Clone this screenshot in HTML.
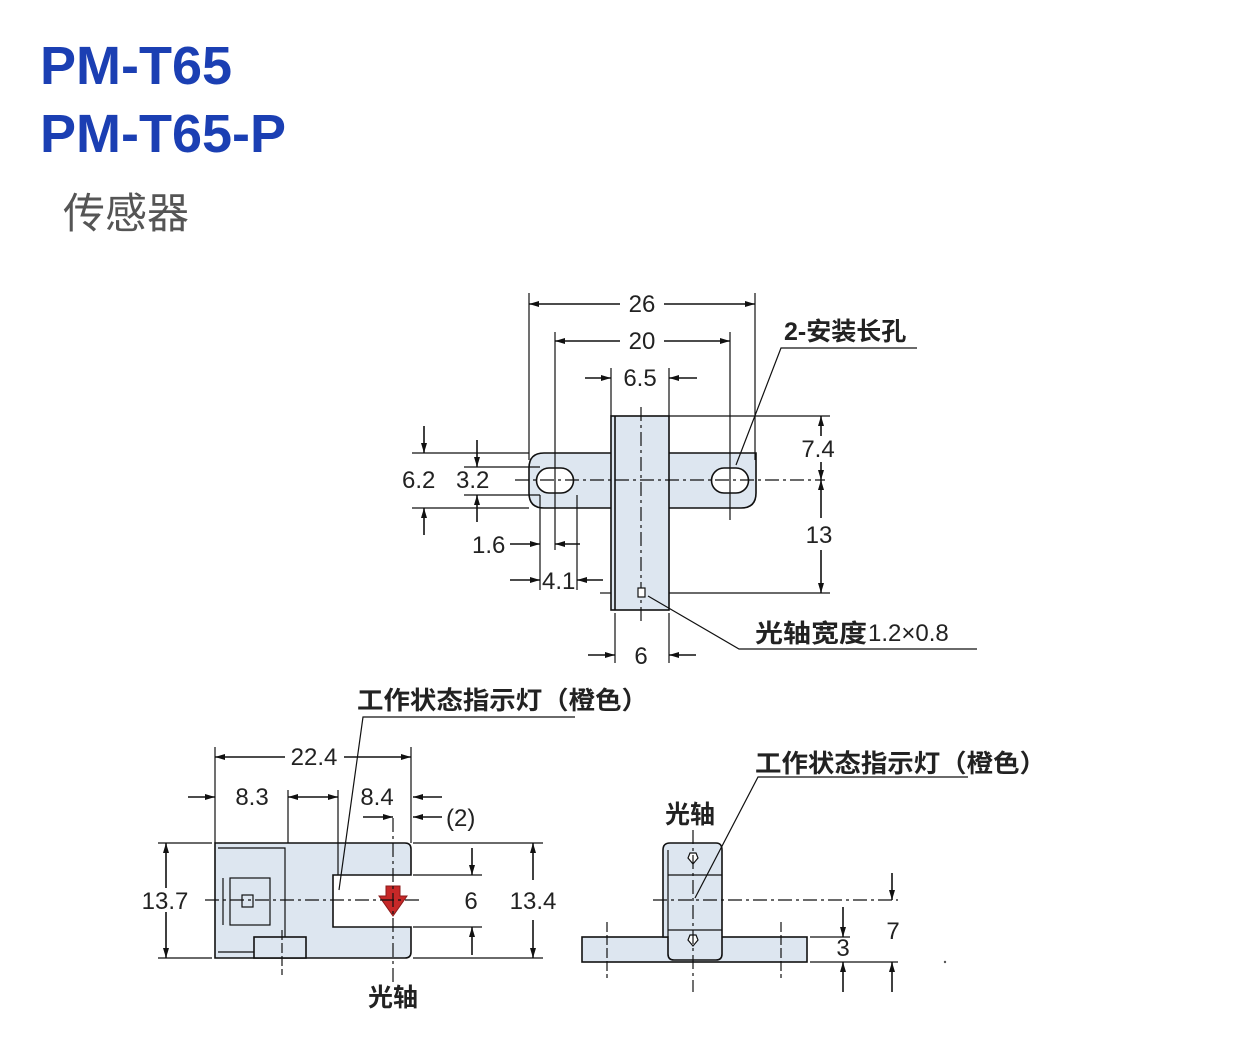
<!DOCTYPE html>
<html><head><meta charset="utf-8"><style>
html,body{margin:0;padding:0;background:#fff;width:1242px;height:1059px;overflow:hidden}
svg{display:block}
.t{font-family:"Liberation Sans","Noto Sans CJK SC",sans-serif;fill:#222}
.c{font-family:"Liberation Sans","Noto Sans CJK SC",sans-serif;fill:#222;font-weight:bold}
</style></head><body>
<svg width="1242" height="1059" viewBox="0 0 1242 1059" xmlns="http://www.w3.org/2000/svg">
<defs>
<marker id="a" markerWidth="10" markerHeight="6" refX="10" refY="3" orient="auto" markerUnits="userSpaceOnUse"><path d="M0,0 L10,3 L0,6 Z" fill="#111"/></marker>
</defs>
<text x="40" y="84" font-family="Liberation Sans,sans-serif" font-weight="bold" font-size="54" fill="#1b3fb3">PM-T65</text>
<text x="40" y="152" font-family="Liberation Sans,sans-serif" font-weight="bold" font-size="54" fill="#1b3fb3">PM-T65-P</text>
<text x="63" y="228" class="t" font-size="42" style="fill:#555">传感器</text>

<g stroke="#111" stroke-width="1.6" fill="none">
<!-- TOP VIEW -->
<path d="M544,453 H756 V493 Q756,508 741,508 H544 Q529,508 529,493 V468 Q529,453 544,453 Z" fill="#dde6f0"/>
<rect x="611" y="416" width="58" height="194" fill="#dde6f0"/>
<line x1="615" y1="416" x2="615" y2="610"/>
<path d="M555,468 H561 A12.5,12.5 0 0 1 561,493 H549 A12.5,12.5 0 0 1 549,468 Z" fill="#fff"/>
<path d="M730,468 H736 A12.5,12.5 0 0 1 736,493 H724 A12.5,12.5 0 0 1 724,468 Z" fill="#fff"/>
<g stroke-width="1.2">
<line x1="515" y1="480" x2="825" y2="480" stroke-dasharray="14,4,3,4"/>
<line x1="641" y1="407" x2="641" y2="623" stroke-dasharray="14,4,3,4"/>
<line x1="529" y1="293" x2="529" y2="460"/>
<line x1="755" y1="293" x2="755" y2="460"/>
<line x1="555" y1="332" x2="555" y2="520"/>
<line x1="730" y1="332" x2="730" y2="520"/>
<line x1="611" y1="368" x2="611" y2="416"/>
<line x1="669" y1="368" x2="669" y2="416"/>
<line x1="669" y1="416" x2="830" y2="416"/>
<line x1="669" y1="593" x2="830" y2="593"/>
<line x1="600" y1="593" x2="611" y2="593"/>
<line x1="615" y1="613" x2="615" y2="663"/>
<line x1="669" y1="613" x2="669" y2="663"/>
<line x1="412" y1="453" x2="529" y2="453"/>
<line x1="412" y1="508" x2="529" y2="508"/>
<line x1="464" y1="467" x2="540" y2="467"/>
<line x1="464" y1="495" x2="540" y2="495"/>
<line x1="540" y1="495" x2="540" y2="590"/>
<line x1="577" y1="495" x2="577" y2="590"/>
<line x1="555" y1="520" x2="555" y2="550"/>
</g>
<line x1="620" y1="304" x2="529" y2="304" marker-end="url(#a)"/>
<line x1="664" y1="304" x2="755" y2="304" marker-end="url(#a)"/>
<line x1="620" y1="341" x2="555" y2="341" marker-end="url(#a)"/>
<line x1="664" y1="341" x2="730" y2="341" marker-end="url(#a)"/>
<line x1="585" y1="378" x2="611" y2="378" marker-end="url(#a)"/>
<line x1="697" y1="378" x2="669" y2="378" marker-end="url(#a)"/>
<line x1="821" y1="436" x2="821" y2="416" marker-end="url(#a)"/>
<line x1="821" y1="462" x2="821" y2="480" marker-end="url(#a)"/>
<line x1="821" y1="518" x2="821" y2="480" marker-end="url(#a)"/>
<line x1="821" y1="550" x2="821" y2="593" marker-end="url(#a)"/>
<line x1="424" y1="426" x2="424" y2="453" marker-end="url(#a)"/>
<line x1="424" y1="535" x2="424" y2="508" marker-end="url(#a)"/>
<line x1="477" y1="440" x2="477" y2="467" marker-end="url(#a)"/>
<line x1="477" y1="522" x2="477" y2="495" marker-end="url(#a)"/>
<line x1="510" y1="544" x2="540" y2="544" marker-end="url(#a)"/>
<line x1="580" y1="544" x2="555" y2="544" marker-end="url(#a)"/>
<line x1="510" y1="580" x2="540" y2="580" marker-end="url(#a)"/>
<line x1="603" y1="580" x2="577" y2="580" marker-end="url(#a)"/>
<line x1="588" y1="655" x2="615" y2="655" marker-end="url(#a)"/>
<line x1="696" y1="655" x2="669" y2="655" marker-end="url(#a)"/>
<rect x="638" y="588" width="7" height="9" stroke-width="1.2" fill="#fff"/>
<polyline points="977,649 739,649 648,596" stroke-width="1.2"/>
<polyline points="917,348 781,348 736,465" stroke-width="1.2"/>

<!-- FRONT VIEW -->
<path d="M215,843 H405 Q411,843 411,849 V875 H333 V927 H411 V952 Q411,958 405,958 H215 Z" fill="#dde6f0"/>
<path d="M218,848 H285 V952 H218" stroke-width="1.2"/>
<line x1="223" y1="878" x2="223" y2="925" stroke-width="1.2"/>
<rect x="230" y="878" width="40" height="47" stroke-width="1.2"/>
<rect x="242" y="895" width="11" height="12" stroke-width="1.2"/>
<rect x="254" y="937" width="52" height="21" fill="#dde6f0"/>
<path d="M386,886 H400 V896 H407 L393,916 L379,896 H386 Z" fill="#c62828" stroke="#8b1a1a" stroke-width="1"/>
<g stroke-width="1.2">
<line x1="205" y1="900" x2="420" y2="900" stroke-dasharray="14,4,3,4"/>
<line x1="393" y1="818" x2="393" y2="982" stroke-dasharray="14,4,3,4"/>
<line x1="282" y1="930" x2="282" y2="975" stroke-dasharray="10,3"/>
<line x1="215" y1="747" x2="215" y2="843"/>
<line x1="411" y1="747" x2="411" y2="843"/>
<line x1="288" y1="790" x2="288" y2="843"/>
<line x1="338" y1="790" x2="338" y2="875"/>
<line x1="158" y1="843" x2="212" y2="843"/>
<line x1="158" y1="958" x2="212" y2="958"/>
<line x1="413" y1="875" x2="482" y2="875"/>
<line x1="413" y1="927" x2="482" y2="927"/>
<line x1="413" y1="843" x2="543" y2="843"/>
<line x1="413" y1="958" x2="543" y2="958"/>
</g>
<line x1="285" y1="757" x2="215" y2="757" marker-end="url(#a)"/>
<line x1="344" y1="757" x2="411" y2="757" marker-end="url(#a)"/>
<line x1="188" y1="797" x2="215" y2="797" marker-end="url(#a)"/>
<line x1="313" y1="797" x2="288" y2="797" marker-end="url(#a)"/>
<line x1="313" y1="797" x2="338" y2="797" marker-end="url(#a)"/>
<line x1="442" y1="797" x2="413" y2="797" marker-end="url(#a)"/>
<line x1="442" y1="817" x2="413" y2="817" marker-end="url(#a)"/>
<line x1="363" y1="817" x2="393" y2="817" marker-end="url(#a)"/>
<line x1="166" y1="900" x2="166" y2="843" marker-end="url(#a)"/>
<line x1="166" y1="900" x2="166" y2="958" marker-end="url(#a)"/>
<line x1="533" y1="880" x2="533" y2="843" marker-end="url(#a)"/>
<line x1="533" y1="920" x2="533" y2="958" marker-end="url(#a)"/>
<line x1="472" y1="848" x2="472" y2="875" marker-end="url(#a)"/>
<line x1="472" y1="955" x2="472" y2="927" marker-end="url(#a)"/>
<polyline points="575,717 363,717 339,890" stroke-width="1.2"/>

<!-- SIDE VIEW -->
<rect x="582" y="937" width="225" height="25" fill="#dde6f0"/>
<path d="M663,850 Q663,843 670,843 H716 Q722,843 722,850 V954 Q722,960 716,960 H674 Q668,960 668,954 V937 H663 Z" fill="#dde6f0"/>
<line x1="668" y1="850" x2="668" y2="937" stroke-width="1.2"/>
<line x1="668" y1="875" x2="722" y2="875" stroke-width="1.2"/>
<line x1="668" y1="930" x2="722" y2="930" stroke-width="1.2"/>
<path d="M693,864 L688,858 L690,853 H696 L698,858 Z" stroke-width="1.2" fill="#fff"/>
<path d="M693,946 L688,940 L690,935 H696 L698,940 Z" stroke-width="1.2" fill="#fff"/>
<g stroke-width="1.2">
<line x1="693" y1="830" x2="693" y2="992" stroke-dasharray="14,4,3,4"/>
<line x1="653" y1="900" x2="898" y2="900" stroke-dasharray="14,4,3,4"/>
<line x1="607" y1="922" x2="607" y2="978" stroke-dasharray="10,3"/>
<line x1="781" y1="922" x2="781" y2="978" stroke-dasharray="10,3"/>
<line x1="810" y1="962" x2="898" y2="962"/>
<line x1="810" y1="937" x2="850" y2="937"/>
</g>
<line x1="892" y1="873" x2="892" y2="900" marker-end="url(#a)"/>
<line x1="892" y1="992" x2="892" y2="962" marker-end="url(#a)"/>
<line x1="843" y1="907" x2="843" y2="937" marker-end="url(#a)"/>
<line x1="843" y1="992" x2="843" y2="962" marker-end="url(#a)"/>
<polyline points="968,777 758,777 695,898" stroke-width="1.2"/>
</g>
<circle cx="945" cy="962" r="1.2" fill="#555"/>
<rect x="140" y="888" width="52" height="24" fill="#fff"/>

<g class="t" font-size="24">
<text x="642" y="312" text-anchor="middle">26</text>
<text x="642" y="349" text-anchor="middle">20</text>
<text x="640" y="386" text-anchor="middle">6.5</text>
<text x="818" y="457" text-anchor="middle">7.4</text>
<text x="819" y="543" text-anchor="middle">13</text>
<text x="402" y="488">6.2</text>
<text x="456" y="488">3.2</text>
<text x="472" y="553">1.6</text>
<text x="542" y="589">4.1</text>
<text x="641" y="664" text-anchor="middle">6</text>
<text x="868" y="641">1.2×0.8</text>
<text x="314" y="765" text-anchor="middle">22.4</text>
<text x="252" y="805" text-anchor="middle">8.3</text>
<text x="377" y="805" text-anchor="middle">8.4</text>
<text x="446" y="826">(2)</text>
<text x="165" y="909" text-anchor="middle">13.7</text>
<text x="471" y="909" text-anchor="middle">6</text>
<text x="533" y="909" text-anchor="middle">13.4</text>
<text x="893" y="939" text-anchor="middle">7</text>
<text x="843" y="956" text-anchor="middle">3</text>
</g>
<g class="c" font-size="25">
<text x="784" y="340">2-安装长孔</text>
<text x="755" y="642" textLength="112" lengthAdjust="spacingAndGlyphs">光轴宽度</text>
<text x="357" y="709" textLength="291" lengthAdjust="spacingAndGlyphs">工作状态指示灯（橙色）</text>
<text x="755" y="772" textLength="291" lengthAdjust="spacingAndGlyphs">工作状态指示灯（橙色）</text>
<text x="393" y="1006" text-anchor="middle">光轴</text>
<text x="690" y="823" text-anchor="middle">光轴</text>
</g>
</svg>
</body></html>
